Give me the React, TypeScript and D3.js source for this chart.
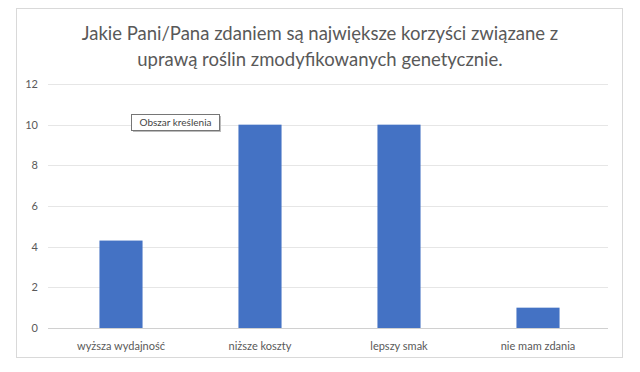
import { useRef, useEffect } from "react";
import * as d3 from "d3";

const categories = ["wyższa wydajność", "niższe koszty", "lepszy smak", "nie mam zdania"];
const values = [4.3, 10, 10, 1];
const yTicks = [0, 2, 4, 6, 8, 10, 12];
const titleLines = [
  "Jakie Pani/Pana zdaniem są największe korzyści związane z",
  "uprawą roślin zmodyfikowanych genetycznie.",
];

const App = () => {
  const svgRef = useRef<SVGSVGElement>(null);

  useEffect(() => {
    const svg = d3.select(svgRef.current);
    svg.selectAll("*").remove();
    const font = "Lato, 'Open Sans', sans-serif";

    // ramka wykresu
    svg.append("rect")
      .attr("x", 16.5).attr("y", 8.5)
      .attr("width", 606).attr("height", 349)
      .attr("fill", "#fff").attr("stroke", "#d9d9d9");

    // tytuł
    svg.append("g").selectAll("text")
      .data(titleLines)
      .enter()
      .append("text")
      .attr("x", 320)
      .attr("y", (d, i) => 40 + i * 26)
      .attr("text-anchor", "middle")
      .attr("font-family", font)
      .attr("font-size", 18.5)
      .attr("fill", "#595959")
      .text((d) => d);

    const x = d3.scaleBand().domain(categories).range([51.5, 607.5]).paddingInner(0.69).paddingOuter(0.345);
    const y = d3.scaleLinear().domain([0, 12]).range([328, 84]);

    // siatka
    svg.append("g").selectAll("line")
      .data(yTicks)
      .enter()
      .append("line")
      .attr("x1", 48).attr("x2", 608)
      .attr("y1", (d) => Math.round(y(d)) + 0.5)
      .attr("y2", (d) => Math.round(y(d)) + 0.5)
      .attr("stroke", (d) => (d === 0 ? "#d0d0d0" : "#e6e6e6"));

    svg.append("g").selectAll("text")
      .data(yTicks)
      .enter()
      .append("text")
      .attr("x", 38)
      .attr("y", (d) => y(d) + 4)
      .attr("text-anchor", "end")
      .attr("font-family", font)
      .attr("font-size", 11)
      .attr("fill", "#595959")
      .text((d) => d);

    // słupki
    svg.append("g").selectAll("rect")
      .data(values)
      .enter()
      .append("rect")
      .attr("x", (d, i) => x(categories[i])!)
      .attr("width", x.bandwidth())
      .attr("y", (d) => y(d))
      .attr("height", (d) => y(0) - y(d))
      .attr("fill", "#4472c4");

    svg.append("g").selectAll("text")
      .data(categories)
      .enter()
      .append("text")
      .attr("x", (d) => x(d)! + x.bandwidth() / 2)
      .attr("y", 350)
      .attr("text-anchor", "middle")
      .attr("font-family", font)
      .attr("font-size", 11)
      .attr("fill", "#595959")
      .text((d) => d);

    // dymek "Obszar kreślenia"
    const tip = svg.append("g").attr("transform", "translate(131,114)");
    tip.append("rect").attr("x", 2).attr("y", 2).attr("width", 88).attr("height", 16).attr("fill", "#bbb");
    tip.append("rect").attr("x", 0.5).attr("y", 0.5).attr("width", 88).attr("height", 16)
      .attr("fill", "#fff").attr("stroke", "#767676");
    tip.append("text").attr("x", 44.5).attr("y", 12).attr("text-anchor", "middle")
      .attr("font-family", font).attr("font-size", 10).attr("fill", "#444")
      .text("Obszar kreślenia");
  }, []);

  return <svg ref={svgRef} width={640} height={372} style={{ position: "absolute", left: 0, top: 0 }}></svg>;
};

export default App;
